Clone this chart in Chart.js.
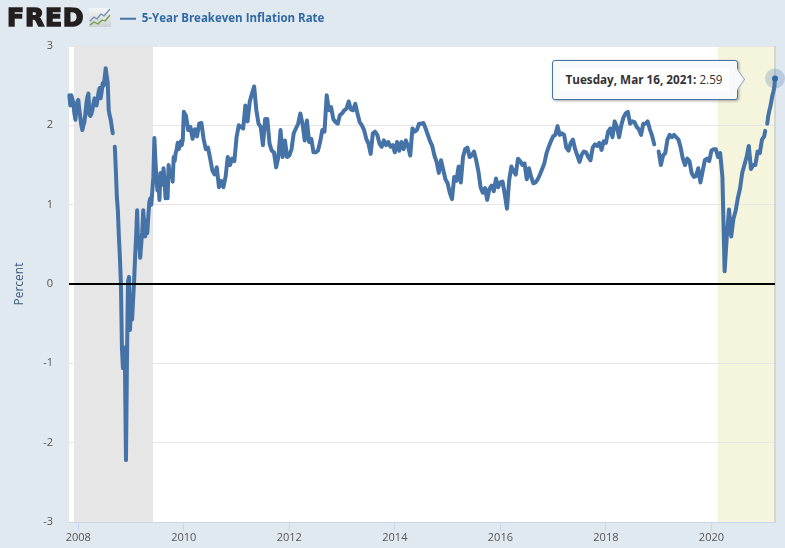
<!DOCTYPE html>
<html><head><meta charset="utf-8">
<style>
html,body{margin:0;padding:0;background:#e1e9f0;width:785px;height:548px;overflow:hidden}
#wrap{position:relative;width:785px;height:548px}
#tip{position:absolute;display:none;box-sizing:border-box;width:186px;height:40px;background:#f8f9fa;border:1px solid #4572a7;border-radius:3px;box-shadow:1px 1px 3px rgba(0,0,0,.35);font:11.7px "Open Sans",sans-serif;color:#333}
#tip .in{position:absolute;left:7px;top:7px;right:8px;height:23px;line-height:23px;background:#fff;text-align:center;white-space:nowrap}
#tip .c{position:absolute;right:-7px;top:12px;width:12px;height:12px;background:#f8f9fa;border-top:1px solid #8aa5c5;border-right:1px solid #8aa5c5;transform:rotate(45deg) skew(10deg,10deg)}
</style>
<script src="https://cdn.jsdelivr.net/npm/chart.js@4"></script>
</head><body>
<div id="wrap"><canvas id="c" width="785" height="548"></canvas>
<div id="tip"><div class="c"></div><div class="in"><b id="tt"></b> <span id="tv"></span></div></div></div>
<script>
const seriesName = "5-Year Breakeven Inflation Rate";
const axisTitle = "Percent";
const tickYears = [2008,2010,2012,2014,2016,2018,2020];
const tickValues = [-3,-2,-1,0,1,2,3];
const xMin = 2007.824, xMax = 2021.205;
const recessions = [[2007.917,2009.416],[2020.12,2021.205]];
const recessionColors = ["#e6e6e6","#f5f4dc"];
const lastDateLabel = "Tuesday, Mar 16, 2021:";
const lastDate = 2021.205, lastValue = 2.59;

// weekly readings, late 2007 to the end of 2009
const v2007 = [2.38,2.25,2.38,2.33,2.28,2.15,2.07,2.2,2.3];
const v2008 = [2.32,2.2,2.1,2.0,1.94,2.0,2.04,2.15,2.28,2.36,2.4,2.13,2.12,2.15,2.2,2.28,2.34,2.28,2.25,2.33,2.42,2.47,2.34,2.42,2.53,2.5,2.6,2.72,2.62,2.54,2.19,2.12,2.07,1.98,1.9,null,1.73,1.44,1.1,0.93,0.6,0.34,0.01,-0.8,-1.06,-0.8,-1.05,-2.22,-0.92,0.03,0.09,-0.58];
const v2009 = [-0.24,-0.45,-0.2,0.03,0.34,0.6,0.93,0.47,0.55,0.33,0.5,0.65,0.93,0.75,0.6,0.8,0.64,0.85,1.03,1.08,1.0,1.18,1.35,1.84,1.56,1.35,1.18,1.3,1.06,1.4,1.35,1.25,1.46,1.3,1.08,1.2,1.08,1.5,1.4,1.35,1.42,1.29,1.6,1.55,1.65,1.7,1.78,1.7,1.75,1.8,1.75,1.82];
// twice-monthly readings afterwards
const v2010 = [2.17,2.12,1.94,1.98,1.83,1.95,1.86,2.02,2.03,1.83,1.7,1.72,1.58,1.43,1.38,1.47,1.22,1.3,1.22,1.35,1.6,1.5,1.58,1.55];
const v2011 = [1.85,2.0,1.98,1.96,2.25,2.05,2.3,2.4,2.49,2.19,2.02,1.98,1.75,2.08,2.08,1.77,1.68,1.66,1.47,1.6,1.94,1.6,1.81,1.6];
const v2012 = [1.62,1.7,1.9,1.96,2.02,2.15,2.02,1.81,2.06,1.79,1.83,1.66,1.66,1.68,1.79,1.94,1.92,2.38,2.19,2.23,2.08,2.04,2.02,2.13];
const v2013 = [2.15,2.19,2.21,2.3,2.2,2.19,2.27,2.15,2.04,2.0,1.94,1.83,1.77,1.64,1.9,1.92,1.88,1.77,1.73,1.81,1.75,1.79,1.73,1.75];
const v2014 = [1.66,1.79,1.68,1.79,1.7,1.81,1.73,1.62,1.96,1.92,1.94,2.02,2.02,2.03,1.96,1.88,1.8,1.74,1.62,1.54,1.4,1.56,1.44,1.32];
const v2015 = [1.27,1.15,1.07,1.35,1.3,1.48,1.28,1.6,1.7,1.72,1.6,1.62,1.67,1.56,1.42,1.22,1.15,1.21,1.06,1.2,1.24,1.17,1.33,1.22];
const v2016 = [1.28,1.29,1.13,0.95,1.31,1.48,1.42,1.38,1.58,1.55,1.5,1.52,1.32,1.46,1.35,1.27,1.28,1.32,1.38,1.45,1.52,1.65,1.73,1.8];
const v2017 = [1.86,1.88,1.99,1.88,1.9,1.88,1.72,1.68,1.78,1.82,1.7,1.62,1.54,1.63,1.67,1.66,1.6,1.56,1.72,1.76,1.74,1.78,1.69,1.8];
const v2018 = [1.78,1.92,1.96,1.85,2.05,1.98,1.85,2.0,2.1,2.15,2.17,2.02,2.05,2.04,1.98,1.95,1.88,2.02,2.02,2.05,1.95,1.87,1.76,null];
const v2019 = [1.67,1.5,1.62,1.65,1.82,1.88,1.85,1.88,1.85,1.82,1.72,1.58,1.5,1.58,1.55,1.4,1.35,1.36,1.46,1.28,1.42,1.56,1.58,1.55];
const v2020 = [1.68,1.7,1.7,1.6,1.65,1.35,0.16,0.6,0.94,0.6,0.82,0.92,1.08,1.2,1.4,1.5,1.6,1.74,1.45,1.5,1.5,1.67,1.65,1.82];
// weekly readings in 2021
const v2021 = [1.86,1.93,null,2.02,2.12,2.18,2.23,2.3,2.37,2.42,2.48];

const points = [];
function add(startYear, perYear, vals){ vals.forEach((v,i)=>points.push({x:startYear+i/perYear,y:v})); }
add(2007.83,52,v2007); add(2008,52,v2008); add(2009,52,v2009);
[[2010,v2010],[2011,v2011],[2012,v2012],[2013,v2013],[2014,v2014],[2015,v2015],[2016,v2016],[2017,v2017],[2018,v2018],[2019,v2019],[2020,v2020]].forEach(p=>add(p[0],24,p[1]));
add(2021,52,v2021);
points.push({x:lastDate,y:lastValue});
const lastIndex = points.length-1;

const backdrop = {
  id:'backdrop',
  beforeDraw(chart){
    const {ctx,chartArea:a,scales:{x}} = chart;
    ctx.save();
    ctx.fillStyle='#fff'; ctx.fillRect(a.left,a.top,a.width,a.height);
    recessions.forEach((r,i)=>{
      ctx.fillStyle=recessionColors[i];
      const l=x.getPixelForValue(r[0]), rr=x.getPixelForValue(r[1]);
      ctx.fillRect(l,a.top,rr-l,a.height);
    });
    ctx.restore();
  },
  beforeDatasetsDraw(chart){
    const {ctx,chartArea:a,scales:{x}} = chart;
    const px=x.getPixelForValue(lastDate);
    ctx.save(); ctx.strokeStyle='#cccccc'; ctx.lineWidth=1.5;
    ctx.beginPath(); ctx.moveTo(px,a.top); ctx.lineTo(px,a.bottom); ctx.stroke(); ctx.restore();
  },
  afterDraw(chart){
    const ctx=chart.ctx; ctx.save();
    ctx.fillStyle='#231f20'; ctx.strokeStyle='#231f20'; ctx.lineWidth=1.5; ctx.lineJoin='miter';
    ctx.font='bold 25px "DejaVu Sans"'; ctx.textBaseline='alphabetic';
    ctx.letterSpacing='0.8px';
    ctx.fillText('FRED',7,25.5); ctx.strokeText('FRED',7,25.5);
    ctx.letterSpacing='0px';
    ctx.lineJoin='round';
    const g=ctx.createLinearGradient(0,8,0,27); g.addColorStop(0,'#f4f5f6'); g.addColorStop(1,'#cdd1d3');
    ctx.fillStyle=g; ctx.fillRect(89,8,22,19);
    ctx.lineWidth=1.3;
    ctx.strokeStyle='#7390b0'; ctx.beginPath(); [[90,21],[94,17],[97,19],[101,14],[104,16],[110,9]].forEach((p,i)=>i?ctx.lineTo(p[0],p[1]):ctx.moveTo(p[0],p[1])); ctx.stroke();
    ctx.strokeStyle='#6f9e45'; ctx.beginPath(); [[90,25],[94,22],[98,24],[102,20],[105,21],[110,15]].forEach((p,i)=>i?ctx.lineTo(p[0],p[1]):ctx.moveTo(p[0],p[1])); ctx.stroke();
    ctx.restore();
  },
  afterLayout(chart){
    if(chart.legend){ chart.legend.left=115; chart.legend.top=8; }
  }
};

const externalTip = ({chart,tooltip})=>{
  const el=document.getElementById('tip');
  if(!tooltip.title||!tooltip.title.length){ el.style.display='none'; return; }
  document.getElementById('tt').textContent=tooltip.title[0];
  document.getElementById('tv').textContent=tooltip.body[0].lines[0];
  el.style.display='block';
  el.style.left=(tooltip.caretX-223.5)+'px';
  el.style.top=(tooltip.caretY-18.5)+'px';
};

const chart = new Chart(document.getElementById('c'),{
  type:'line',
  plugins:[backdrop],
  data:{datasets:[
    {label:'zero',data:[{x:xMin,y:0},{x:xMax,y:0}],borderColor:'#000',borderWidth:2,pointRadius:0,order:0},
    {label:seriesName,data:points,parsing:false,borderColor:'#4572a7',backgroundColor:'#4572a7',borderWidth:4,tension:0,spanGaps:false,
     pointRadius:c=>c.dataIndex===lastIndex?3:0,pointBackgroundColor:'#2f68a5',pointBorderWidth:0,clip:false,order:1,borderJoinStyle:'round',borderCapStyle:'round'},
    {label:'halo',data:[{x:lastDate,y:lastValue}],pointRadius:10,pointBackgroundColor:'rgba(69,114,167,.25)',pointBorderWidth:0,showLine:false,clip:false,order:2}
  ]},
  options:{
    responsive:false,animation:false,events:[],
    layout:{padding:{left:0,right:8.5,top:19.5,bottom:0}},
    scales:{
      x:{type:'linear',min:xMin,max:xMax,
        afterBuildTicks:s=>{s.ticks=tickYears.map(v=>({value:v}));},
        afterFit:s=>{s.height=26;},
        grid:{drawOnChartArea:false,drawTicks:true,tickLength:9,color:'#ccd6eb'},
        border:{color:'#ccd6eb',width:1},
        ticks:{autoSkip:false,maxRotation:0,padding:0,color:'#555',font:{family:'"Open Sans"',size:11},callback:v=>String(v)}},
      y:{min:-3,max:3,
        afterBuildTicks:s=>{s.ticks=tickValues.map(v=>({value:v}));},
        afterFit:s=>{s.width=69;},
        grid:{color:'#e6e6e6',drawTicks:false,lineWidth:1},
        border:{display:false},
        title:{display:true,text:axisTitle,color:'#3b5b7c',font:{family:'"Open Sans"',size:12},padding:{top:12,bottom:0}},
        ticks:{padding:16,color:'#555',font:{family:'"Open Sans"',size:11},callback:v=>String(v)}}
    },
    plugins:{
      legend:{display:true,position:'top',align:'start',
        labels:{boxWidth:16,boxHeight:2,padding:5,color:'#444444',font:{family:'"Open Sans"',size:11.5,weight:'bold'},
          generateLabels:()=>[{text:seriesName,fillStyle:'#4572a7',strokeStyle:'#4572a7',lineWidth:0,hidden:false,datasetIndex:1}]}},
      tooltip:{enabled:false,external:externalTip,
        callbacks:{title:()=>lastDateLabel,label:()=>String(lastValue)}}
    }
  }
});
chart.tooltip.setActiveElements([{datasetIndex:1,index:lastIndex}],{x:0,y:0});
chart.draw();
</script>
</body></html>
